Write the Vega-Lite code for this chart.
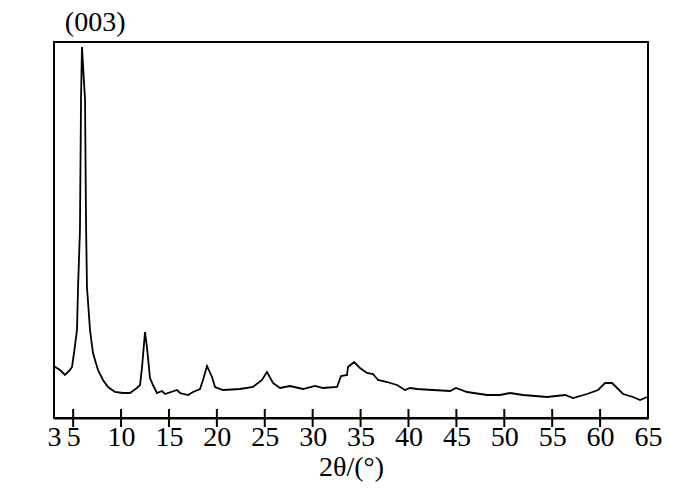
{
  "$schema": "https://vega.github.io/schema/vega-lite/v6.json",
  "width": 594,
  "height": 376,
  "autosize": {"type": "none"},
  "padding": {"left": 54, "top": 42, "right": 52, "bottom": 73},
  "background": "white",
  "config": {
    "view": {"stroke": "black", "strokeWidth": 2},
    "font": "Liberation Serif"
  },
  "datasets": {
    "xrd": [
      {"theta": 3.0, "I": 51}, {"theta": 3.1, "I": 51}, {"theta": 3.63, "I": 48}, {"theta": 4.15, "I": 43},
      {"theta": 4.25, "I": 44}, {"theta": 4.67, "I": 48}, {"theta": 4.88, "I": 51}, {"theta": 5.09, "I": 65},
      {"theta": 5.4, "I": 88}, {"theta": 5.51, "I": 131}, {"theta": 5.71, "I": 188}, {"theta": 5.82, "I": 318},
      {"theta": 5.92, "I": 371}, {"theta": 6.24, "I": 318}, {"theta": 6.34, "I": 198}, {"theta": 6.44, "I": 131},
      {"theta": 6.76, "I": 88}, {"theta": 7.07, "I": 65}, {"theta": 7.59, "I": 48}, {"theta": 8.11, "I": 38},
      {"theta": 8.64, "I": 31}, {"theta": 9.37, "I": 26}, {"theta": 10.2, "I": 25}, {"theta": 10.62, "I": 25},
      {"theta": 10.93, "I": 25}, {"theta": 11.66, "I": 30}, {"theta": 11.98, "I": 33}, {"theta": 12.19, "I": 51},
      {"theta": 12.5, "I": 86}, {"theta": 12.71, "I": 70}, {"theta": 13.02, "I": 40}, {"theta": 13.33, "I": 33},
      {"theta": 13.75, "I": 25}, {"theta": 14.27, "I": 27}, {"theta": 14.59, "I": 24}, {"theta": 15.84, "I": 28},
      {"theta": 16.15, "I": 25}, {"theta": 16.99, "I": 23}, {"theta": 17.51, "I": 26}, {"theta": 18.24, "I": 29},
      {"theta": 18.55, "I": 38}, {"theta": 18.97, "I": 52}, {"theta": 19.49, "I": 41}, {"theta": 19.81, "I": 31},
      {"theta": 20.64, "I": 28}, {"theta": 22.42, "I": 29}, {"theta": 23.77, "I": 31}, {"theta": 24.71, "I": 38},
      {"theta": 25.23, "I": 46}, {"theta": 25.86, "I": 35}, {"theta": 26.59, "I": 30}, {"theta": 27.63, "I": 32},
      {"theta": 28.99, "I": 29}, {"theta": 30.24, "I": 32}, {"theta": 31.08, "I": 30}, {"theta": 32.54, "I": 31},
      {"theta": 32.96, "I": 42}, {"theta": 33.58, "I": 43}, {"theta": 33.69, "I": 51}, {"theta": 34.32, "I": 56},
      {"theta": 34.94, "I": 50}, {"theta": 35.67, "I": 45}, {"theta": 36.3, "I": 44}, {"theta": 36.82, "I": 38},
      {"theta": 37.76, "I": 36}, {"theta": 38.8, "I": 33}, {"theta": 39.64, "I": 28}, {"theta": 40.16, "I": 30},
      {"theta": 40.89, "I": 29}, {"theta": 42.56, "I": 28}, {"theta": 44.34, "I": 27}, {"theta": 44.96, "I": 30},
      {"theta": 46.11, "I": 26}, {"theta": 48.2, "I": 23}, {"theta": 49.55, "I": 23}, {"theta": 50.6, "I": 25},
      {"theta": 51.96, "I": 23}, {"theta": 54.46, "I": 21}, {"theta": 56.34, "I": 23}, {"theta": 57.18, "I": 20},
      {"theta": 58.64, "I": 24}, {"theta": 59.79, "I": 28}, {"theta": 60.52, "I": 35}, {"theta": 61.25, "I": 35},
      {"theta": 62.4, "I": 24}, {"theta": 63.44, "I": 21}, {"theta": 64.17, "I": 18}, {"theta": 64.9, "I": 21}
    ],
    "tickpos": [
      {"tick": 5}, {"tick": 10}, {"tick": 15}, {"tick": 20}, {"tick": 25}, {"tick": 30},
      {"tick": 35}, {"tick": 40}, {"tick": 45}, {"tick": 50}, {"tick": 55}, {"tick": 60}
    ],
    "notes": [{"theta": 7.3, "I": 381, "label": "(003)"}]
  },
  "layer": [
    {
      "data": {"name": "xrd"},
      "mark": {"type": "line", "color": "black", "strokeWidth": 1.8, "interpolate": "linear"},
      "encoding": {
        "x": {
          "field": "theta", "type": "quantitative",
          "scale": {"domain": [3, 65], "nice": false, "zero": false},
          "axis": {
            "values": [3, 5, 10, 15, 20, 25, 30, 35, 40, 45, 50, 55, 60, 65],
            "title": "2θ/(°)",
            "titleFont": "Liberation Serif", "titleFontSize": 28, "titleFontWeight": "normal", "titleColor": "black",
            "titlePadding": 2,
            "labelFont": "Liberation Serif", "labelFontSize": 28, "labelColor": "black",
            "labelPadding": 5, "labelFlush": false, "labelOverlap": false,
            "ticks": false,
            "domainColor": "black", "domainWidth": 2,
            "grid": false
          }
        },
        "y": {
          "field": "I", "type": "quantitative",
          "scale": {"domain": [0, 376], "nice": false},
          "axis": null
        }
      }
    },
    {
      "data": {"name": "tickpos"},
      "mark": {"type": "tick", "color": "black", "orient": "vertical", "size": 18, "thickness": 2, "opacity": 1},
      "encoding": {
        "x": {"field": "tick", "type": "quantitative"},
        "y": {"datum": 0, "type": "quantitative"}
      }
    },
    {
      "data": {"name": "notes"},
      "mark": {"type": "text", "fontSize": 28, "font": "Liberation Serif", "color": "black", "baseline": "bottom", "align": "center", "clip": false},
      "encoding": {
        "x": {"field": "theta", "type": "quantitative"},
        "y": {"field": "I", "type": "quantitative"},
        "text": {"field": "label"}
      }
    }
  ]
}
